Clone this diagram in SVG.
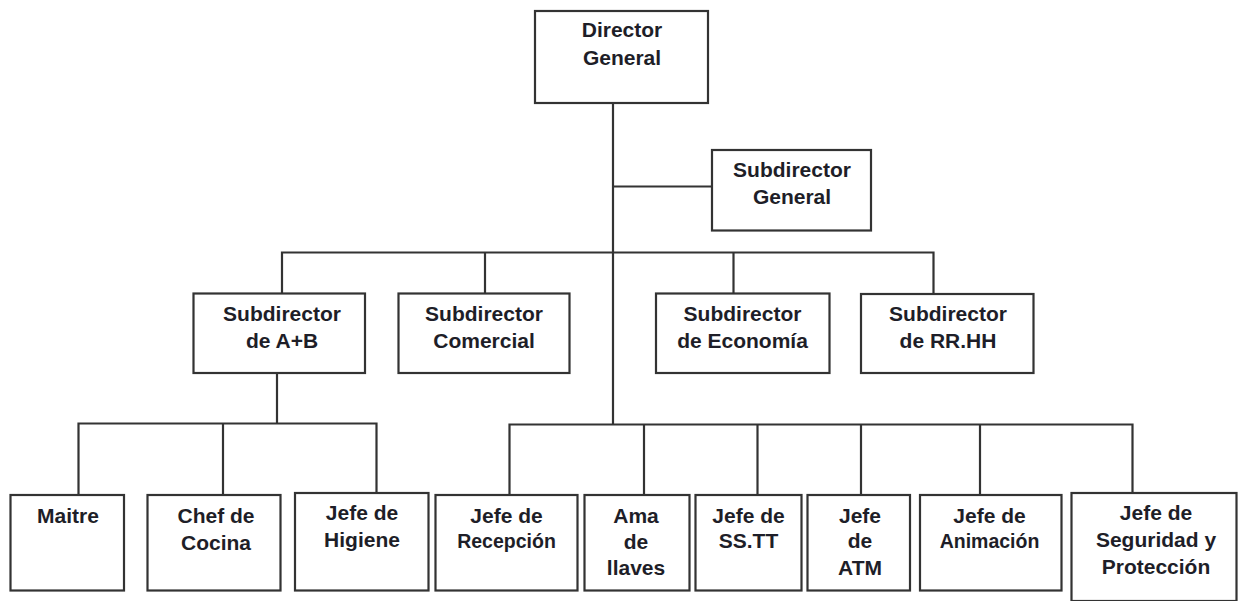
<svg xmlns="http://www.w3.org/2000/svg" width="1243" height="601" viewBox="0 0 1243 601">
<style>
rect{fill:#fff;stroke:#333;stroke-width:2.2}
.c line,.c polyline{stroke:#333;stroke-width:2.2;fill:none}
text{font-family:"Liberation Sans",Arial,sans-serif;font-weight:bold;font-size:21px;fill:#1e1e28;text-anchor:middle}
.s{font-size:19.5px}
</style>
<rect width="1243" height="601" style="fill:#fff;stroke:none"/>
<g class="c" id="connectors">
<line x1="613" y1="103" x2="613" y2="424.5"/>
<line x1="613" y1="186.5" x2="712" y2="186.5"/>
<polyline points="282,293.5 282,252.5 933.5,252.5 933.5,293.5"/>
<line x1="485" y1="252.5" x2="485" y2="293.5"/>
<line x1="733.5" y1="252.5" x2="733.5" y2="293.5"/>
<line x1="277" y1="373" x2="277" y2="423.5"/>
<polyline points="78.5,495 78.5,423.5 376.5,423.5 376.5,493"/>
<line x1="223" y1="423.5" x2="223" y2="495"/>
<polyline points="509.5,495 509.5,424.5 1132.5,424.5 1132.5,493"/>
<line x1="644" y1="424.5" x2="644" y2="495"/>
<line x1="757.5" y1="424.5" x2="757.5" y2="495"/>
<line x1="861" y1="424.5" x2="861" y2="495"/>
<line x1="980" y1="424.5" x2="980" y2="495"/>
</g>
<g id="director-general"><rect x="535" y="11" width="173" height="92"/><text x="622" y="37">Director</text><text x="622" y="65">General</text></g>
<g id="subdirector-general"><rect x="712" y="150" width="159" height="80.5"/><text x="792" y="176.5">Subdirector</text><text x="792" y="204">General</text></g>
<g id="subdirector-ab"><rect x="193.5" y="293.5" width="171.5" height="79.5"/><text x="282" y="321">Subdirector</text><text x="282" y="348">de A+B</text></g>
<g id="subdirector-comercial"><rect x="398.5" y="293.5" width="171" height="79.5"/><text x="484" y="321">Subdirector</text><text x="484" y="348">Comercial</text></g>
<g id="subdirector-economia"><rect x="656" y="293.5" width="173.5" height="79.5"/><text x="742.5" y="321">Subdirector</text><text x="742.5" y="348">de Economía</text></g>
<g id="subdirector-rrhh"><rect x="861" y="294" width="172.5" height="79"/><text x="948" y="321">Subdirector</text><text x="948" y="348">de RR.HH</text></g>
<g id="maitre"><rect x="10.5" y="495" width="113.5" height="95.5"/><text x="68" y="523">Maitre</text></g>
<g id="chef-cocina"><rect x="147.5" y="495" width="133" height="95.5"/><text x="216" y="523">Chef de</text><text x="216" y="550">Cocina</text></g>
<g id="jefe-higiene"><rect x="295" y="493" width="133.5" height="97.5"/><text x="362" y="519.5">Jefe de</text><text x="362" y="546.5">Higiene</text></g>
<g id="jefe-recepcion"><rect x="435.5" y="495" width="142" height="95.5"/><text x="506.5" y="522.5">Jefe de</text><text class="s" x="506.5" y="547.5">Recepción</text></g>
<g id="ama-llaves"><rect x="584.5" y="495" width="105" height="95.5"/><text x="636" y="522.5">Ama</text><text x="636" y="548.5">de</text><text x="636" y="575">llaves</text></g>
<g id="jefe-sstt"><rect x="695.5" y="495" width="106" height="95.5"/><text x="748.5" y="522.5">Jefe de</text><text x="748.5" y="548">SS.TT</text></g>
<g id="jefe-atm"><rect x="807.5" y="495" width="102.5" height="95.5"/><text x="860" y="522.5">Jefe</text><text x="860" y="548">de</text><text x="860" y="575">ATM</text></g>
<g id="jefe-animacion"><rect x="920" y="495" width="141.5" height="95.5"/><text x="989.5" y="522.5">Jefe de</text><text class="s" x="989.5" y="547.5">Animación</text></g>
<g id="jefe-seguridad"><rect x="1071.5" y="493" width="165" height="108"/><text x="1156" y="520">Jefe de</text><text x="1156" y="546.5">Seguridad y</text><text x="1156" y="573.5">Protección</text></g>
</svg>
